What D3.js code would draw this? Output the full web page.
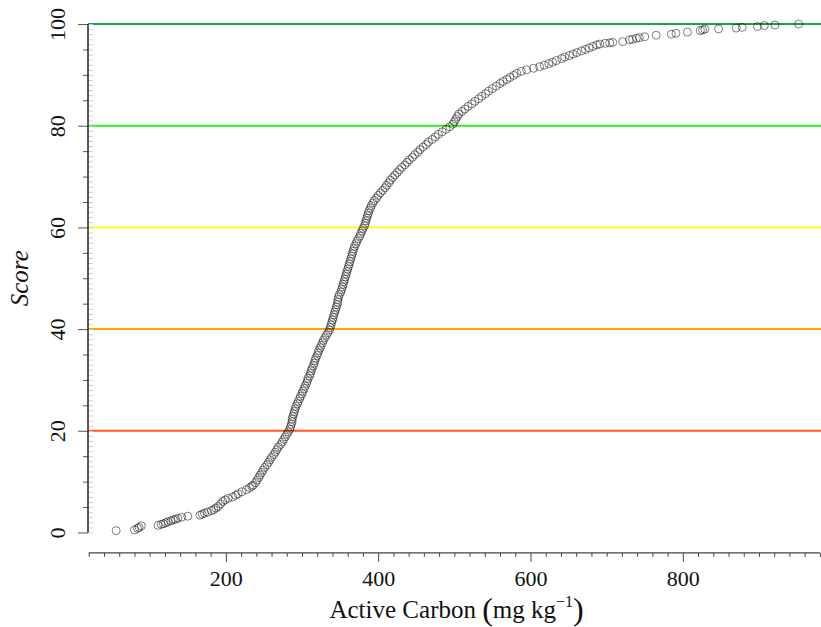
<!DOCTYPE html>
<html>
<head>
<meta charset="utf-8">
<script src="https://cdn.jsdelivr.net/npm/d3@7"></script>
<style>
  body { margin: 0; background: #fff; }
  svg { font-family: "Liberation Serif", "Times New Roman", serif; }
</style>
</head>
<body>
<svg id="chart" width="821" height="627"></svg>
<script>
// active carbon (mg/kg), sorted
var carbon = [
  56, 80, 84, 86, 89, 111, 115, 118, 121, 124, 128, 131, 134, 137, 142, 150, 166, 169, 172, 176,
  181, 184, 187, 190, 193, 196, 199, 203, 209, 213, 216, 221, 227, 231, 234, 236, 239, 241, 243, 245,
  247, 249, 251, 254, 256, 258, 260, 263, 265, 267, 269, 272,
  274, 276, 278, 280, 282,
  284, 285, 286, 287, 287, 288, 289, 290,
  291, 292, 294, 295, 297, 298, 300, 301, 303, 304,
  306, 307, 308, 310, 311, 312, 313, 315, 316, 317, 318, 320, 321, 322,
  324, 325, 327, 328, 330, 332, 334, 336,
  337, 338, 339, 340, 341, 342, 343, 344, 345, 346, 347, 347, 348, 349,
  351, 352, 353, 354, 355, 356, 357, 358, 359, 360, 361, 362, 363, 364, 365, 366, 367,
  368, 369, 371, 372, 374, 376, 377, 379, 380,
  382, 383, 384, 385, 386, 387, 388, 390, 391, 393, 395, 398, 400,
  403, 406, 409, 411, 414, 416, 419,
  422, 425, 428, 431, 435, 438, 441, 445,
  448, 452, 455, 459, 463, 466,
  471, 475, 479, 484, 489, 494,
  498, 500, 502, 504, 506, 510, 514, 518, 523, 527,
  532, 536, 541, 545, 550, 555, 560,
  564, 569, 573, 578, 582,
  588, 595, 604, 612, 618, 624, 629, 634,
  641, 645, 651, 656, 661, 667, 672, 677, 682, 687,
  691, 698, 704, 708, 721, 730, 734, 739, 743, 750, 765, 785, 791, 806, 823, 826, 829, 847,
  870, 878, 898, 907, 921, 952
];
// score, same order
var score = [
  0.35, 0.5, 0.8, 1.0, 1.3, 1.4, 1.6, 1.7, 1.9, 2.1, 2.3, 2.5, 2.6, 2.8, 3.0, 3.2, 3.4, 3.6, 3.8, 4.0,
  4.3, 4.5, 4.8, 5.1, 5.6, 6.1, 6.4, 6.7, 7.0, 7.3, 7.6, 8.0, 8.4, 8.8, 9.1, 9.3, 9.8, 10.3, 10.8, 11.3,
  11.8, 12.3, 12.8, 13.3, 13.8, 14.3, 14.8, 15.3, 15.8, 16.3, 16.8, 17.3,
  17.8, 18.3, 18.8, 19.3, 19.8,
  20.3, 20.8, 21.3, 21.8, 22.3, 22.8, 23.3, 23.8,
  24.3, 24.8, 25.3, 25.8, 26.3, 26.8, 27.3, 27.8, 28.3, 28.8,
  29.3, 29.8, 30.3, 30.8, 31.3, 31.8, 32.3, 32.8, 33.3, 33.8, 34.3, 34.8, 35.3, 35.8,
  36.3, 36.8, 37.3, 37.8, 38.3, 38.8, 39.3, 39.8,
  40.3, 40.8, 41.3, 41.8, 42.3, 42.8, 43.3, 43.8, 44.3, 44.8, 45.3, 45.8, 46.3, 46.8,
  47.3, 47.8, 48.3, 48.8, 49.3, 49.8, 50.3, 50.8, 51.3, 51.8, 52.3, 52.8, 53.3, 53.8, 54.3, 54.8, 55.3,
  55.8, 56.3, 56.8, 57.3, 57.8, 58.3, 58.8, 59.3, 59.8,
  60.3, 60.8, 61.3, 61.8, 62.3, 62.8, 63.3, 63.8, 64.3, 64.8, 65.3, 65.8, 66.3,
  66.8, 67.3, 67.8, 68.3, 68.8, 69.3, 69.8,
  70.3, 70.8, 71.3, 71.8, 72.3, 72.8, 73.3, 73.8,
  74.3, 74.8, 75.3, 75.8, 76.3, 76.8,
  77.3, 77.8, 78.3, 78.8, 79.3, 79.8,
  80.3, 80.8, 81.3, 81.8, 82.3, 82.8, 83.3, 83.8, 84.3, 84.8,
  85.3, 85.8, 86.3, 86.8, 87.3, 87.8, 88.3,
  88.7, 89.1, 89.5, 89.9, 90.3,
  90.7, 91.0, 91.3, 91.6, 91.9, 92.2, 92.5, 92.8,
  93.2, 93.5, 93.8, 94.1, 94.4, 94.7, 95.0, 95.3, 95.6, 95.9,
  96.06, 96.2, 96.3, 96.4, 96.55, 96.9, 97.0, 97.2, 97.3, 97.5, 97.8, 98.0, 98.2, 98.4, 98.7, 98.85, 99.0, 99.05,
  99.2, 99.35, 99.5, 99.7, 99.8, 100
];

// score class boundaries and their line colours
var levels = [20, 40, 60, 80, 100];
var levelColors = ["#ff5a1f", "#ffa500", "#ffff22", "#33ee22", "#1f9a55"];

var xTicks = [200, 400, 600, 800];
var yTicks = [0, 20, 40, 60, 80, 100];

var svg = d3.select("#chart");

var x = d3.scaleLinear().domain([19, 988]).range([88, 826]);
var y = d3.scaleLinear().domain([-4, 104]).range([552.8, 3.7]);

// horizontal score lines
svg.append("g")
  .selectAll("line")
  .data(levels)
  .enter().append("line")
    .attr("x1", x(19))
    .attr("x2", x(988))
    .attr("y1", function (d) { return y(d); })
    .attr("y2", function (d) { return y(d); })
    .attr("stroke", function (d, i) { return levelColors[i]; })
    .attr("stroke-width", 2);

// points
svg.append("g")
  .selectAll("circle")
  .data(carbon)
  .enter().append("circle")
    .attr("cx", function (d) { return x(d); })
    .attr("cy", function (d, i) { return y(score[i]); })
    .attr("r", 4)
    .attr("fill", "none")
    .attr("stroke", "#000")
    .attr("stroke-opacity", 0.5)
    .attr("stroke-width", 1);

// y axis: inner minor ticks every 1
var yMinor = d3.range(0, 101, 1);
svg.append("g")
  .attr("transform", "translate(88,0)")
  .call(d3.axisRight(y).tickValues(yMinor).tickSize(5).tickFormat(""))
  .call(function (g) { g.select(".domain").remove(); })
  .selectAll("line").attr("stroke", "#d0d0d0");

// y axis: medium ticks every 5
var yMid = d3.range(5, 100, 5).filter(function (d) { return d % 20 !== 0; });
svg.append("g")
  .attr("transform", "translate(88,0)")
  .call(d3.axisLeft(y).tickValues(yMid).tickSize(5).tickFormat(""))
  .call(function (g) { g.select(".domain").remove(); })
  .selectAll("line").attr("stroke", "#555");

// y axis: major ticks + labels
var yAxis = svg.append("g")
  .attr("transform", "translate(88,0)")
  .call(d3.axisLeft(y).tickValues(yTicks).tickSize(10))
  .call(function (g) { g.select(".domain").remove(); });
yAxis.selectAll("line").attr("stroke", "#555");
yAxis.selectAll("text")
  .attr("transform", "rotate(-90)")
  .attr("x", 0)
  .attr("y", -23)
  .attr("dy", 0)
  .attr("text-anchor", "middle")
  .attr("fill", "#111")
  .style("font-size", "22px")
  .style("font-family", "Liberation Serif, serif");

svg.append("line")
  .attr("x1", 88).attr("x2", 88)
  .attr("y1", y(0)).attr("y2", y(100))
  .attr("stroke", "#222")
  .attr("stroke-width", 1.5);

// x axis: minor ticks every 20
var xMinor = d3.range(20, 981, 20).filter(function (d) { return d % 200 !== 0; });
svg.append("g")
  .attr("transform", "translate(0," + y(-4) + ")")
  .call(d3.axisBottom(x).tickValues(xMinor).tickSize(4).tickFormat(""))
  .call(function (g) { g.select(".domain").remove(); })
  .selectAll("line").attr("stroke", "#444");

var xAxis = svg.append("g")
  .attr("transform", "translate(0," + y(-4) + ")")
  .call(d3.axisBottom(x).tickValues(xTicks).tickSize(9).tickPadding(9))
  .call(function (g) { g.select(".domain").remove(); });
xAxis.selectAll("line").attr("stroke", "#444");
xAxis.selectAll("text")
  .attr("fill", "#111")
  .style("font-size", "22px")
  .style("font-family", "Liberation Serif, serif");

svg.append("line")
  .attr("x1", x(20)).attr("x2", x(980))
  .attr("y1", y(-4)).attr("y2", y(-4))
  .attr("stroke", "#444")
  .attr("stroke-width", 1.2);

// axis titles
svg.append("text")
  .attr("transform", "translate(28," + y(50) + ") rotate(-90)")
  .attr("text-anchor", "middle")
  .style("font-size", "25px")
  .style("font-style", "italic")
  .attr("fill", "#111")
  .text("Score");

var xt = svg.append("text")
  .attr("x", x(503))
  .attr("y", 618)
  .attr("text-anchor", "middle")
  .attr("fill", "#111")
  .style("font-size", "25px");
xt.append("tspan").text("Active Carbon ");
xt.append("tspan").style("font-size", "32px").attr("dy", 2).text("(");
xt.append("tspan").attr("dy", -2).text("mg kg");
xt.append("tspan").style("font-size", "16px").attr("dy", -11).text("\u22121");
xt.append("tspan").style("font-size", "32px").attr("dy", 13).text(")");
</script>
</body>
</html>
